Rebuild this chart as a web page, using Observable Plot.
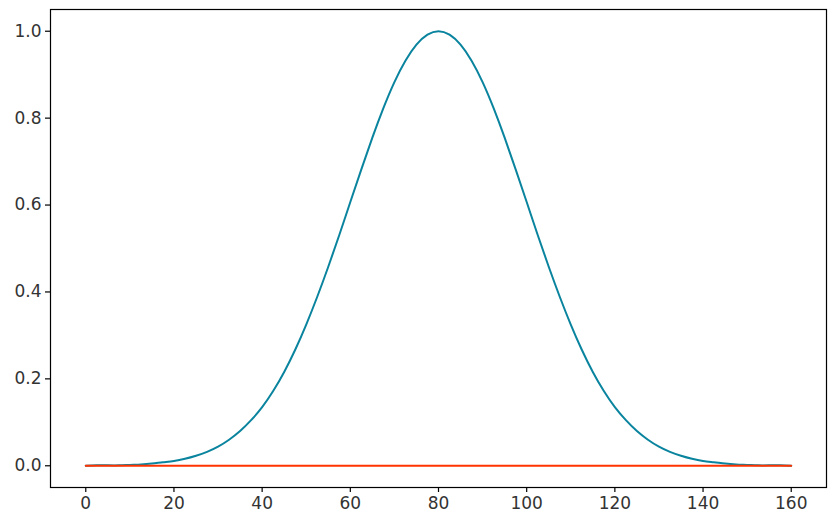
<!DOCTYPE html>
<html>
<head>
<meta charset="utf-8">
<script src="https://cdn.jsdelivr.net/npm/d3@7"></script>
<script src="https://cdn.jsdelivr.net/npm/@observablehq/plot@0.6"></script>
<style>
  html, body { margin: 0; padding: 0; background: #fff; }
  #chart svg { display: block; }
</style>
</head>
<body>
<div id="chart"></div>
<script>
// x positions
const xs = [0,2.5,5,7.5,10,12.5,15,17.5,20,22.5,25,27.5,30,32.5,35,37.5,40,42.5,45,47.5,50,52.5,55,57.5,60,62.5,65,67.5,70,72.5,75,77.5,80,
            82.5,85,87.5,90,92.5,95,97.5,100,102.5,105,107.5,110,112.5,115,117.5,120,122.5,125,127.5,130,132.5,135,137.5,140,142.5,145,147.5,150,152.5,155,157.5,160];
// teal curve values
const curveVals = [0.000,0.001,0.001,0.001,0.002,0.003,0.005,0.008,0.011,0.016,0.023,0.032,0.044,0.060,0.080,0.105,0.135,0.172,0.216,0.267,0.325,0.389,0.458,0.531,0.607,0.682,0.755,0.823,0.883,0.932,0.969,0.992,1.000,
                   0.992,0.969,0.932,0.883,0.823,0.755,0.682,0.607,0.531,0.458,0.389,0.325,0.267,0.216,0.172,0.135,0.105,0.080,0.060,0.044,0.032,0.023,0.016,0.011,0.008,0.005,0.003,0.002,0.001,0.001,0.001,0.000];
// red baseline values
const baseX = [0, 160];
const baseVals = [0, 0];
const xTicks = [0,20,40,60,80,100,120,140,160];
const yTicks = [0.0,0.2,0.4,0.6,0.8,1.0];

const curve = xs.map((x, i) => ({x, y: curveVals[i]}));
const base = baseX.map((x, i) => ({x, y: baseVals[i]}));

const chart = Plot.plot({
  width: 835,
  height: 526,
  marginLeft: 50,
  marginRight: 9,
  marginTop: 9,
  marginBottom: 39,
  style: {fontFamily: "'DejaVu Sans', sans-serif", fontSize: "17px", color: "#333", background: "#fff"},
  x: {domain: [-8, 168], label: null},
  y: {domain: [-0.05, 1.05], label: null},
  marks: [
    Plot.frame({stroke: "#000", strokeWidth: 1.2}),
    Plot.axisX({ticks: xTicks, tickSize: 5, tickPadding: 4, fontSize: 17, stroke: "#000", strokeWidth: 1.2}),
    Plot.axisY({ticks: yTicks, tickSize: 5, tickPadding: 4, fontSize: 17, tickFormat: d3.format(".1f"), stroke: "#000", strokeWidth: 1.2}),
    Plot.line(curve, {x: "x", y: "y", stroke: "#0a849e", strokeWidth: 2, curve: "natural"}),
    Plot.line(base, {x: "x", y: "y", stroke: "#ff3300", strokeWidth: 2})
  ]
});
document.getElementById("chart").appendChild(chart);
</script>
</body>
</html>
